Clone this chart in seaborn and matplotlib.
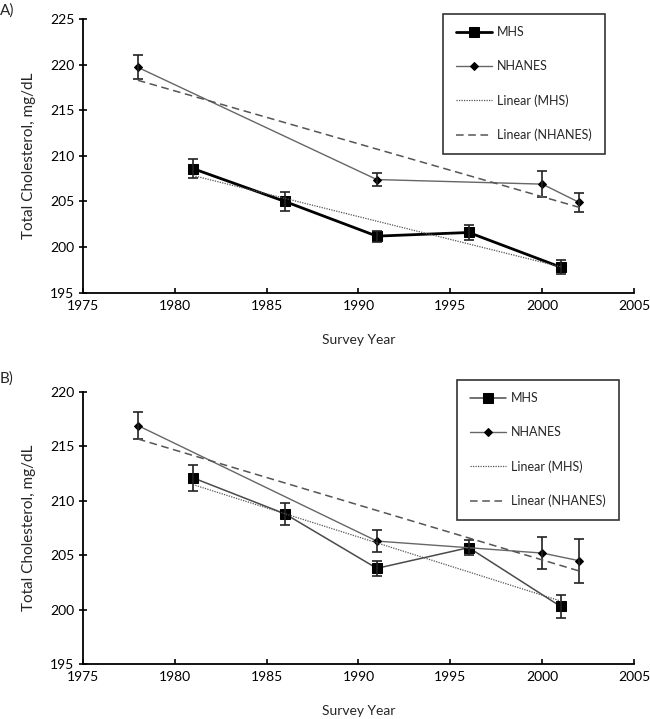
import numpy as np
import pandas as pd
import matplotlib.pyplot as plt
import seaborn as sns

# survey years
mhs_years = [1981, 1986, 1991, 1996, 2001]
nhanes_years = [1978, 1991, 2000, 2002]

# panel A values (mean, +/- error)
a_mhs = [208.6, 205.0, 201.2, 201.6, 197.8]
a_mhs_err = [1.0, 1.0, 0.6, 0.8, 0.8]
a_nhanes = [219.7, 207.4, 206.9, 204.9]
a_nhanes_err = [1.3, 0.75, 1.4, 1.0]

# panel B values
b_mhs = [212.1, 208.8, 203.8, 205.7, 200.3]
b_mhs_err = [1.2, 1.0, 0.7, 0.7, 1.1]
b_nhanes = [216.9, 206.3, 205.2, 204.5]
b_nhanes_err = [1.2, 1.0, 1.5, 2.0]

sns.set_theme(style="ticks")
plt.rcParams["font.family"] = ["Lato", "DejaVu Sans"]

fig = plt.figure(figsize=(6.5, 7.19), dpi=100)
axA = fig.add_axes([0.1272, 0.5929, 0.8486, 0.3807])
axB = fig.add_axes([0.1272, 0.0761, 0.8486, 0.3791])


def draw(ax, mhs, mhs_err, nh, nh_err, mhs_lw, mhs_col, ylim, legend_xy):
    dm = pd.DataFrame({"year": mhs_years, "chol": mhs})
    dn = pd.DataFrame({"year": nhanes_years, "chol": nh})

    sns.lineplot(data=dm, x="year", y="chol", ax=ax, color=mhs_col, lw=mhs_lw,
                 marker="s", markersize=7, markerfacecolor="black",
                 markeredgecolor="black", label="MHS")
    sns.lineplot(data=dn, x="year", y="chol", ax=ax, color="#666666", lw=1,
                 marker="D", markersize=4.5, markerfacecolor="black",
                 markeredgecolor="black", label="NHANES")
    ax.errorbar(dm["year"], dm["chol"], yerr=mhs_err, fmt="none",
                ecolor="#222222", elinewidth=1.2, capsize=3.5, capthick=1.2)
    ax.errorbar(dn["year"], dn["chol"], yerr=nh_err, fmt="none",
                ecolor="#222222", elinewidth=1.2, capsize=3.5, capthick=1.2)

    sns.regplot(data=dm, x="year", y="chol", ax=ax, scatter=False, ci=None,
                truncate=True, label="Linear (MHS)",
                line_kws=dict(color="#555555", lw=0.9, ls=(0, (1, 1))))
    sns.regplot(data=dn, x="year", y="chol", ax=ax, scatter=False, ci=None,
                truncate=True, label="Linear (NHANES)",
                line_kws=dict(color="#555555", lw=1.1, ls=(0, (5, 3))))

    ax.set_xlim(1975, 2005)
    ax.set_ylim(*ylim)
    ax.set_xticks(range(1975, 2006, 5))
    ax.set_yticks(range(ylim[0], ylim[1] + 1, 5))
    ax.tick_params(labelsize=10, width=1.2, color="black", labelcolor="black")
    ax.tick_params(axis="x", direction="in", length=3.5, pad=5)
    ax.tick_params(axis="y", direction="inout", length=6, pad=3)
    for s in ["left", "bottom"]:
        ax.spines[s].set_color("black")
        ax.spines[s].set_linewidth(1.3)
    sns.despine(ax=ax)
    ax.set_xlabel("Survey Year", fontsize=10, labelpad=16)
    ax.set_ylabel("Total Cholesterol, mg/dL", fontsize=11, labelpad=10)

    h, l = ax.get_legend_handles_labels()
    leg = ax.legend(h, l, loc="upper left", bbox_to_anchor=legend_xy,
                    bbox_transform=fig.transFigure, borderaxespad=0,
                    fontsize=9, frameon=True, fancybox=False,
                    edgecolor="black", labelspacing=1.75, handlelength=2.9,
                    handletextpad=0.45, borderpad=1.0)
    leg.get_frame().set_linewidth(1.2)


draw(axA, a_mhs, a_mhs_err, a_nhanes, a_nhanes_err, 2.0, "black",
     (195, 225), (443 / 650, 1 - 14 / 719))
draw(axB, b_mhs, b_mhs_err, b_nhanes, b_nhanes_err, 1.1, "#4a4a4a",
     (195, 220), (457 / 650, 1 - 380 / 719))

fig.text(0.0, 0.995, "A)", fontsize=11, va="top")
fig.text(0.0, 0.484, "B)", fontsize=11, va="top")

fig.savefig("out.png", dpi=100)
